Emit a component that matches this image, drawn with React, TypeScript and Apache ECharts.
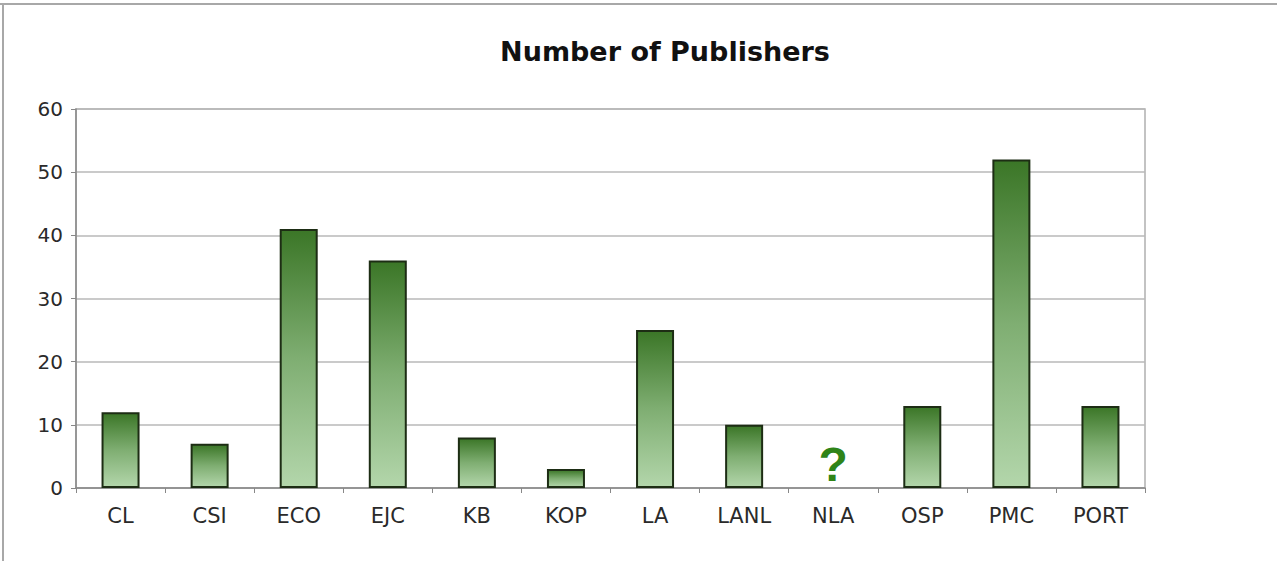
import React, { useEffect, useRef } from "react";
import * as echarts from "echarts";

const title = "Number of Publishers";
const categories = ["CL", "CSI", "ECO", "EJC", "KB", "KOP", "LA", "LANL", "NLA", "OSP", "PMC", "PORT"];
const publishers: (number | null)[] = [12, 7, 41, 36, 8, 3, 25, 10, null, 13, 52, 13];
const unknownCategory = "NLA";
const unknownMarkerY = 4;
const yMin = 0;
const yMax = 60;
const yInterval = 10;

export default function App() {
  const ref = useRef<HTMLDivElement>(null);
  useEffect(() => {
    if (!ref.current) return;
    const chart = echarts.init(ref.current, null, { renderer: "svg" });
    const font = "'DejaVu Sans', 'Liberation Sans', Arial, sans-serif";
    chart.setOption({
      animation: false,
      backgroundColor: "#ffffff",
      title: {
        text: title,
        left: 660,
        textAlign: "center",
        top: 33,
        textStyle: { fontFamily: font, fontSize: 27, fontWeight: "bold", color: "#111" },
      },
      graphic: [
        { type: "line", shape: { x1: 0, y1: 4, x2: 1277, y2: 4 }, style: { stroke: "#a8a8a8", lineWidth: 2 } },
        { type: "line", shape: { x1: 3, y1: 4, x2: 3, y2: 561 }, style: { stroke: "#a8a8a8", lineWidth: 2 } },
      ],
      grid: {
        left: 76,
        right: 132,
        top: 109,
        bottom: 73,
        show: true,
        borderColor: "#b0b0b0",
        borderWidth: 1.5,
        backgroundColor: "transparent",
      },
      xAxis: {
        type: "category",
        data: categories,
        axisLine: { lineStyle: { color: "#888", width: 1.5 } },
        axisTick: { show: true, length: 5, lineStyle: { color: "#888" } },
        axisLabel: { fontFamily: font, fontSize: 21, color: "#2a2a2a", margin: 17 },
      },
      yAxis: {
        type: "value",
        min: yMin,
        max: yMax,
        interval: yInterval,
        axisLine: { show: true, lineStyle: { color: "#888", width: 1.5 } },
        axisTick: { show: true, length: 5, lineStyle: { color: "#888" } },
        axisLabel: { fontFamily: font, fontSize: 20, color: "#2a2a2a", margin: 13 },
        splitLine: { lineStyle: { color: "#b8b8b8", width: 1.5 } },
      },
      series: [
        {
          type: "bar",
          data: publishers,
          barWidth: 38,
          itemStyle: {
            borderColor: "#1d2d14",
            borderWidth: 2,
            color: new echarts.graphic.LinearGradient(0, 0, 0, 1, [
              { offset: 0, color: "#3b7627" },
              { offset: 0.5, color: "#7fae72" },
              { offset: 1, color: "#b3d6ab" },
            ]),
          },
        },
        {
          type: "scatter",
          data: [[unknownCategory, unknownMarkerY]],
          symbolSize: 1,
          itemStyle: { color: "rgba(0,0,0,0)", opacity: 1 },
          label: {
            show: true,
            position: "inside",
            offset: [0, 2],
            formatter: "?",
            fontFamily: "'Liberation Sans', Arial, sans-serif",
            fontSize: 48,
            fontWeight: "bold",
            color: "#2f8418",
            opacity: 1,
          },
        },
      ],
    });
    return () => chart.dispose();
  }, []);
  return (
    <div
      ref={ref}
      style={{ position: "fixed", left: 0, top: 0, width: 1277, height: 561 }}
    />
  );
}
